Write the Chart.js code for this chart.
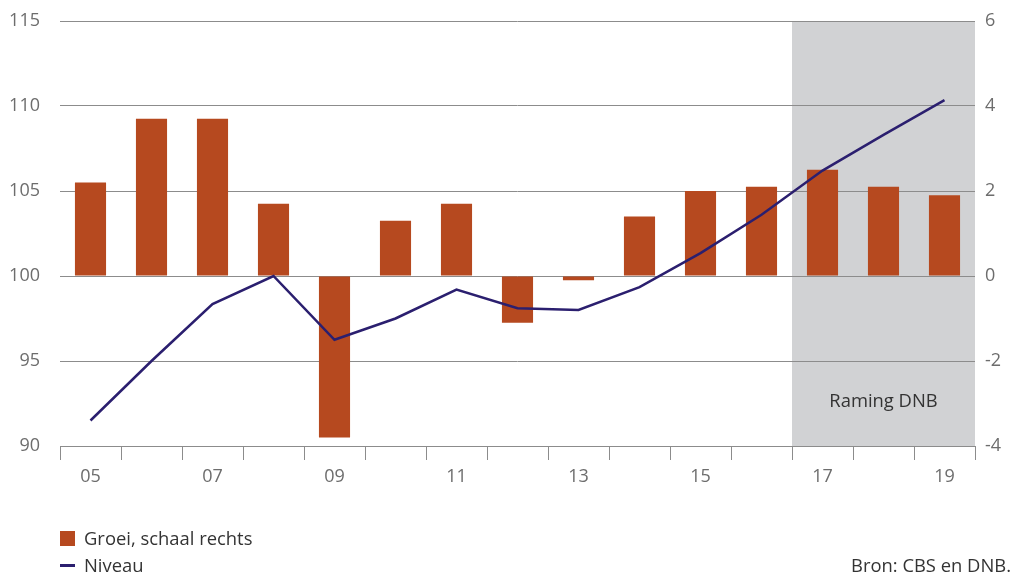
<!DOCTYPE html>
<html>
<head>
<meta charset="utf-8">
<script src="https://cdn.jsdelivr.net/npm/chart.js@4/dist/chart.umd.min.js"></script>
<style>
  html, body { margin: 0; padding: 0; background: #fff; }
  #wrap { position: relative; width: 1011px; height: 573px; font-family: "Open Sans", "Noto Sans", sans-serif; }
  #chart { position: absolute; left: 0; top: 0; }
  .legend { position: absolute; font-size: 18.4px; color: #333; line-height: 20px; }
  .swatch { position: absolute; left: 60px; width: 15px; height: 15px; background: #b6491f; }
  .dash { position: absolute; left: 60px; width: 15px; height: 3px; background: #2b1f6f; }
</style>
</head>
<body>
<div id="wrap">
  <canvas id="chart" width="1011" height="573"></canvas>
  <div class="swatch" style="top:531px"></div>
  <div class="legend" style="left:84px; top:528px">Groei, schaal rechts</div>
  <div class="dash" style="top:564px"></div>
  <div class="legend" style="left:84px; top:555px">Niveau</div>
  <div class="legend" style="right:0; top:555px">Bron: CBS en DNB.</div>
</div>
<script>
document.addEventListener('DOMContentLoaded', () => {
    const years = ['05', '06', '07', '08', '09', '10', '11', '12', '13', '14', '15', '16', '17', '18', '19'];
    // growth in %, right scale
    const groei = [2.2, 3.7, 3.7, 1.7, -3.8, 1.3, 1.7, -1.1, -0.1, 1.4, 2.0, 2.1, 2.5, 2.1, 1.9];
    // level index, left scale
    const niveau = [91.5, 95.0, 98.35, 100.0, 96.25, 97.5, 99.2, 98.1, 98.0, 99.35, 101.35, 103.6, 106.2, 108.3, 110.35];
    const forecastStart = 12; // first forecast year (17)

    const tickColor = '#6d6d6d';
    const gridColor = '#8c8c8c';
    const tickFont = { family: '"Open Sans", "Noto Sans", sans-serif', size: 18 };

    // grey forecast band plus its label, behind grid and data
    const forecastBand = {
        id: 'forecastBand',
        beforeDraw(chart) {
            const { ctx, chartArea, scales } = chart;
            const x = scales.x;
            const half = (x.getPixelForValue(1) - x.getPixelForValue(0)) / 2;
            const left = x.getPixelForValue(forecastStart) - half;
            ctx.save();
            ctx.fillStyle = '#d1d2d4';
            ctx.fillRect(left, chartArea.top, chartArea.right - left, chartArea.bottom - chartArea.top);
            ctx.fillStyle = '#333';
            ctx.font = '18.4px "Open Sans", "Noto Sans", sans-serif';
            ctx.textAlign = 'center';
            ctx.textBaseline = 'middle';
            ctx.fillText('Raming DNB', (left + chartArea.right) / 2, chartArea.bottom - 44);
            ctx.restore();
        }
    };

    new Chart(document.getElementById('chart').getContext('2d'), {
        type: 'bar',
        data: {
            labels: years,
            datasets: [
                {
                    type: 'line',
                    label: 'Niveau',
                    data: niveau,
                    yAxisID: 'y',
                    borderColor: '#2b1f6f',
                    borderWidth: 2.5,
                    pointRadius: 0,
                    tension: 0,
                    order: 0
                },
                {
                    label: 'Groei, schaal rechts',
                    data: groei,
                    yAxisID: 'y1',
                    backgroundColor: '#b6491f',
                    barPercentage: 0.51,
                    categoryPercentage: 1,
                    order: 1
                }
            ]
        },
        options: {
            responsive: false,
            animation: false,
            layout: { autoPadding: false, padding: { top: 21, bottom: 73, left: 0, right: 0 } },
            plugins: { legend: { display: false }, tooltip: { enabled: false } },
            scales: {
                x: {
                    afterFit(scale) { scale.height = 54; },
                    grid: {
                        drawOnChartArea: false,
                        drawTicks: true,
                        tickLength: 14,
                        color: gridColor,
                        offset: true
                    },
                    border: { display: true, color: gridColor, width: 1 },
                    ticks: {
                        autoSkip: false,
                        maxRotation: 0,
                        padding: 6,
                        color: tickColor,
                        font: tickFont,
                        callback: (v, i) => (i % 2 === 0 ? years[i] : '')
                    }
                },
                y: {
                    position: 'left',
                    min: 90,
                    max: 115,
                    afterFit(scale) { scale.width = 60; },
                    // invisible tick marks keep the labels off the plot edge
                    grid: { color: gridColor, lineWidth: 1, drawTicks: true, tickLength: 17, tickColor: 'rgba(0,0,0,0)' },
                    border: { display: false },
                    ticks: { stepSize: 5, padding: 3, color: tickColor, font: tickFont }
                },
                y1: {
                    position: 'right',
                    min: -4,
                    max: 6,
                    afterFit(scale) { scale.width = 36; },
                    grid: { drawOnChartArea: false, drawTicks: true, tickLength: 7, tickColor: 'rgba(0,0,0,0)' },
                    border: { display: false },
                    ticks: { stepSize: 2, padding: 3, color: tickColor, font: tickFont }
                }
            }
        },
        plugins: [forecastBand]
    });
});
</script>
</body>
</html>
